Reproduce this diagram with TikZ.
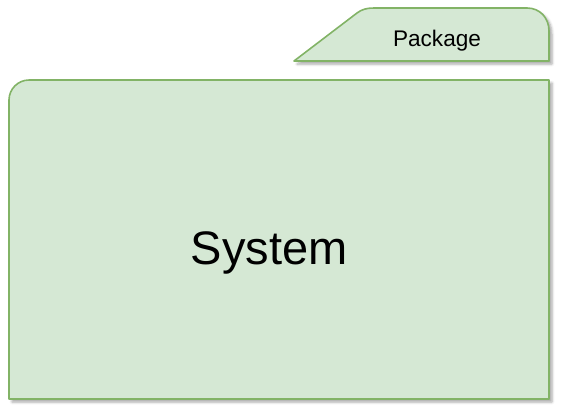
\documentclass[tikz,border=0pt]{standalone}
\usepackage{fontspec}
\setmainfont{Liberation Sans}
\usetikzlibrary{positioning, shadows.blur}
\definecolor{pkgfill}{HTML}{D5E8D4}
\definecolor{pkgline}{HTML}{82B366}
\tikzset{
  pkgshape/.style={draw=pkgline, fill=pkgfill, line width=1.6pt, line join=round,
    blur shadow={shadow xshift=3pt, shadow yshift=-3pt, shadow blur radius=2.5pt, shadow opacity=35}},
}

\begin{document}
\begin{tikzpicture}[x=1pt, y=-1pt]

    \useasboundingbox (0,0) rectangle (564,416);

    % --- Tab on top right ---
    \draw[pkgshape] (294,61) -- (357,13)
        .. controls (362,9.2) and (367,8) .. (374,8) -- (527,8)
        .. controls (540,8) and (549,18) .. (549,31) -- (549,61) -- cycle;

    % --- Main body ---
    \draw[pkgshape] (9,399) -- (9,100)
        .. controls (9,89) and (18,80) .. (29,80) -- (549,80) -- (549,399) -- cycle;

    % --- Labels ---
    \node[anchor=base, inner sep=0pt, font=\fontsize{22.6}{26}\selectfont] (pkg) at (437,46) {Package};
    \node[anchor=base, inner sep=0pt, font=\fontsize{47}{55}\selectfont] (system) at (269,264) {System};

\end{tikzpicture}
\end{document}
